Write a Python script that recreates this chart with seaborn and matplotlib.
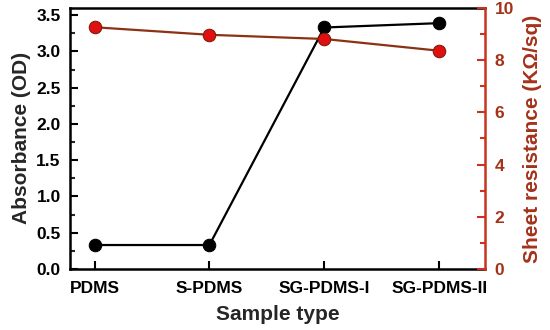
import numpy as np
import pandas as pd
import matplotlib
matplotlib.use('Agg')
import matplotlib.pyplot as plt
from matplotlib.ticker import MultipleLocator
import seaborn as sns

# data
samples = ['PDMS', 'S-PDMS', 'SG-PDMS-I', 'SG-PDMS-II']
absorbance = [0.33, 0.33, 3.33, 3.39]
resistance = [9.26, 8.97, 8.81, 8.36]

sns.set_style('ticks')
plt.rcParams['font.family'] = ['Liberation Sans', 'DejaVu Sans']
plt.rcParams['font.weight'] = 'bold'

red_axis = '#c8321e'
red_text = '#a4321a'
brown_line = '#8b3214'

df = pd.DataFrame({'sample': samples, 'abs': absorbance, 'res': resistance})
df['x'] = np.arange(len(samples))

fig, ax = plt.subplots(figsize=(5.5, 3.3), dpi=100)
fig.subplots_adjust(left=0.128, right=0.882, top=0.976, bottom=0.185)
ax2 = ax.twinx()

sns.lineplot(data=df, x='x', y='abs', ax=ax, color='black', lw=1.6,
             marker='o', markersize=9, markeredgecolor='black', zorder=3)
sns.lineplot(data=df, x='x', y='res', ax=ax2, color=brown_line, lw=1.6,
             marker='o', markersize=9, markerfacecolor='#e01010',
             markeredgecolor='#7a1a0a', zorder=3)

ax.set_xlim(-0.21, 3.4)
ax.set_ylim(0, 3.6)
ax2.set_ylim(0, 10)

ax.set_xticks(df['x'])
ax.set_xticklabels(samples, fontsize=12.5, fontweight='bold')
ax.yaxis.set_major_locator(MultipleLocator(0.5))
ax.yaxis.set_minor_locator(MultipleLocator(0.25))
ax.yaxis.set_major_formatter(matplotlib.ticker.FormatStrFormatter('%.1f'))
ax2.yaxis.set_major_locator(MultipleLocator(2))
ax2.yaxis.set_minor_locator(MultipleLocator(1))

ax.tick_params(axis='both', which='major', direction='in', length=6, width=1.5,
               labelsize=12.5, colors='black', pad=7)
ax.tick_params(axis='x', which='major', pad=9)
ax.tick_params(axis='y', which='minor', direction='in', length=3.5, width=1.5)
ax.tick_params(axis='x', which='minor', bottom=False)
ax2.tick_params(axis='y', which='major', direction='in', length=6, width=1.5,
                labelsize=12.5, colors=red_axis, labelcolor=red_text, pad=7)
ax2.tick_params(axis='y', which='minor', direction='in', length=3.5, width=1.5,
                colors=red_axis)
for lab in ax.get_yticklabels() + ax2.get_yticklabels():
    lab.set_fontweight('bold')

for side in ['left', 'bottom', 'top']:
    ax.spines[side].set_linewidth(1.8)
    ax.spines[side].set_color('black')
ax.spines['right'].set_visible(False)
ax2.spines['right'].set_color(red_axis)
ax2.spines['right'].set_linewidth(1.8)
for side in ['left', 'bottom', 'top']:
    ax2.spines[side].set_visible(False)

ax.set_xlabel('Sample type', fontsize=15, fontweight='bold', labelpad=6)
ax.set_ylabel('Absorbance (OD)', fontsize=15, fontweight='bold', labelpad=4)
ax2.set_ylabel('Sheet resistance (K\u03a9/sq)', fontsize=15, fontweight='bold',
               color=red_text, labelpad=6)

fig.savefig('out.png', dpi=100)
